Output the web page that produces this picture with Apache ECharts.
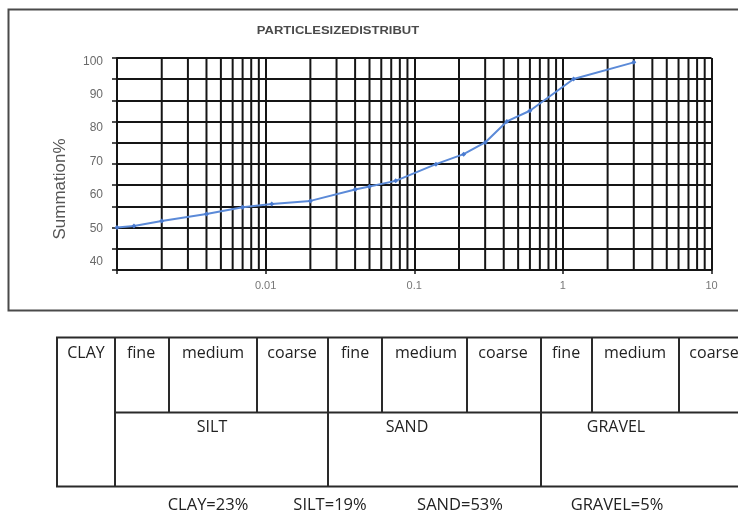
<!DOCTYPE html>
<html><head><meta charset="utf-8">
<script src="https://cdn.jsdelivr.net/npm/echarts@6/dist/echarts.min.js"></script>
<style>html,body{margin:0;padding:0;background:#fff}#c{width:738px;height:519px}</style>
</head><body><div id="c"></div>
<script>
// ---- data ----
const titleText = 'PARTICLESIZEDISTRIBUT';
const yAxisName = 'Summation%';
const sizes = [0.001, 0.0013, 0.002, 0.004, 0.007, 0.011, 0.02, 0.04, 0.05, 0.075, 0.14, 0.215, 0.3, 0.42, 0.6, 1.18, 3.0];
const summation = [50.2, 50.7, 52.2, 54.3, 56.3, 57.3, 58.2, 61.6, 62.5, 64.2, 69.2, 72.2, 75.7, 82, 85.2, 94.7, 99.7];
const yTickLabels = [40, 50, 60, 70, 80, 90, 100];
const xDecades = [0.001, 0.01, 0.1, 1, 10];
const tableRow1 = ['CLAY', 'fine', 'medium', 'coarse', 'fine', 'medium', 'coarse', 'fine', 'medium', 'coarse'];
const tableRow2 = ['SILT', 'SAND', 'GRAVEL'];
const summaryLabels = ['CLAY=23%', 'SILT=19%', 'SAND=53%', 'GRAVEL=5%'];

// ---- layout ----
const minorGrid = [];
xDecades.slice(0, -1).forEach(d => { for (let m = 2; m <= 9; m++) minorGrid.push(+(d * m).toPrecision(3)); });

const ink = '#151515';
const tFont = '16px "Open Sans"';
const graphics = [];
// outer frame
graphics.push({ type: 'rect', shape: { x: 8.5, y: 9.5, width: 800, height: 301 }, style: { fill: 'none', stroke: '#4a4a4a', lineWidth: 2 } });
// title
graphics.push({ type: 'text', x: 338, y: 31, scaleY: 0.85, style: { text: titleText, font: 'bold 13px "Liberation Sans"', fill: '#4a4a4a', align: 'center', verticalAlign: 'middle' } });
// y name
graphics.push({ type: 'text', x: 60, y: 189, rotation: Math.PI / 2, style: { text: yAxisName, font: '17px "Liberation Sans"', fill: '#555', align: 'center', verticalAlign: 'middle' } });

// table
const tL = 57, tT = 337.5, tM = 412.5, tB = 486.5, tR = 760;
const hLine = (x1, x2, y) => graphics.push({ type: 'line', shape: { x1, y1: y, x2, y2: y }, style: { stroke: '#2a2a2a', lineWidth: 2 } });
const vLine = (x, y1, y2) => graphics.push({ type: 'line', shape: { x1: x, y1, x2: x, y2 }, style: { stroke: '#2a2a2a', lineWidth: 2 } });
hLine(tL - 1, tR, tT); hLine(tL - 1, tR, tB); hLine(115, tR, tM);
[57, 115, 328, 541].forEach(x => vLine(x, tT, tB));
[169, 257, 382, 467, 592, 679].forEach(x => vLine(x, tT, tM));
const row1X = [86, 141, 213, 292, 355, 426, 503, 566, 635, 714];
tableRow1.forEach((t, i) => graphics.push({ type: 'text', x: row1X[i], y: 353, style: { text: t, font: tFont, fill: '#222', align: 'center', verticalAlign: 'middle' } }));
const row2X = [212, 407, 616];
tableRow2.forEach((t, i) => graphics.push({ type: 'text', x: row2X[i], y: 427, style: { text: t, font: tFont, fill: '#222', align: 'center', verticalAlign: 'middle' } }));
const sumX = [208, 330, 460, 617];
summaryLabels.forEach((t, i) => graphics.push({ type: 'text', x: sumX[i], y: 505, style: { text: t, font: '16.5px "Open Sans"', fill: '#222', align: 'center', verticalAlign: 'middle' } }));

const chart = echarts.init(document.getElementById('c'));
chart.setOption({
  animation: false,
  backgroundColor: '#fff',
  grid: { left: 117, right: 26.5, top: 58, bottom: 249, containLabel: false },
  xAxis: {
    type: 'log', logBase: 10, min: 0.001, max: 10,
    axisLine: { show: true, lineStyle: { color: ink, width: 2 } },
    axisTick: { show: true, length: 4, lineStyle: { color: ink, width: 1.5 } },
    splitLine: { show: true, lineStyle: { color: ink, width: 2 } },
    axisLabel: { color: '#777', fontSize: 11, fontFamily: 'Liberation Sans', margin: 10,
      formatter: v => (v < 0.005 ? '' : String(+v.toPrecision(3))) }
  },
  yAxis: [
    { type: 'value', min: 0, max: 10, interval: 1,
      axisLine: { show: true, lineStyle: { color: ink, width: 2 } },
      axisTick: { show: true, length: 5, lineStyle: { color: ink, width: 1.5 } },
      splitLine: { show: true, lineStyle: { color: ink, width: 2 } },
      axisLabel: { show: false } },
    { type: 'value', min: 37.5, max: 101, position: 'left',
      axisLine: { show: false }, axisTick: { show: false }, splitLine: { show: false },
      axisLabel: { customValues: yTickLabels, color: '#6a6a6a', fontSize: 12, fontFamily: 'Liberation Sans', margin: 14 } }
  ],
  series: [
    { type: 'custom', xAxisIndex: 0, yAxisIndex: 0, z: 1, silent: true, clip: false,
      data: minorGrid.map(v => [v, 0]),
      encode: { x: 0, y: 1 },
      renderItem: (params, api) => {
        const v = api.value(0);
        const p1 = api.coord([v, 0]);
        const p2 = api.coord([v, 10]);
        return { type: 'line', shape: { x1: p1[0], y1: p1[1], x2: p2[0], y2: p2[1] }, style: { stroke: ink, lineWidth: 2 } };
      } },
    { type: 'line', xAxisIndex: 0, yAxisIndex: 1, z: 5,
      data: sizes.map((s, i) => [s, summation[i]]),
      symbol: 'diamond', symbolSize: 5, showSymbol: true,
      lineStyle: { color: '#5b8ad8', width: 2 }, itemStyle: { color: '#4a7bd0' } }
  ],
  graphic: graphics
});
</script></body></html>
